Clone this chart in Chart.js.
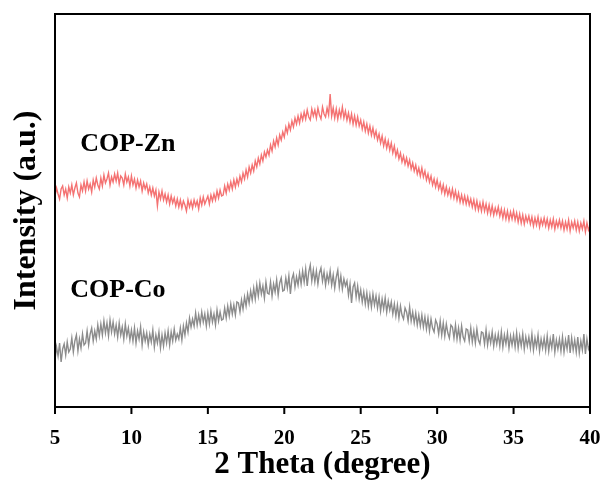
<!DOCTYPE html>
<html>
<head>
<meta charset="utf-8">
<script src="https://cdn.jsdelivr.net/npm/chart.js@4.4.1/dist/chart.umd.min.js"></script>
<style>
  html, body { margin: 0; padding: 0; background: #fff; }
  #grafico { display: block; }
</style>
</head>
<body>
<canvas id="grafico" width="605" height="484"></canvas>
<script>
// 2 theta sampling (degrees)
const thetaInicio = 5;
const thetaPasso = 0.1;

// COP-Zn intensity (a.u.), one row per degree
const intensidadeZn = [
  211, 219, 213, 208, 218, 221, 212, 218, 209, 220,
  214, 222, 212, 219, 224, 214, 210, 222, 216, 225,
  216, 226, 218, 223, 215, 227, 220, 229, 222, 218,
  229, 221, 232, 224, 228, 234, 222, 230, 225, 233,
  226, 234, 223, 231, 229, 222, 233, 225, 230, 221,
  231, 222, 228, 219, 227, 220, 226, 216, 224, 218,
  223, 214, 220, 212, 219, 211, 217, 201, 215, 208,
  216, 207, 213, 205, 212, 203, 211, 204, 209, 201,
  208, 200, 207, 199, 206, 202, 196, 207, 200, 206,
  199, 207, 201, 206, 198, 209, 202, 210, 203, 207,
  211, 203, 212, 206, 213, 207, 216, 209, 217, 211,
  212, 221, 214, 223, 217, 225, 218, 227, 220, 228,
  222, 231, 225, 234, 228, 237, 230, 240, 234, 242,
  236, 246, 240, 249, 243, 252, 246, 255, 250, 257,
  252, 262, 256, 266, 260, 269, 262, 272, 267, 275,
  270, 280, 274, 283, 277, 286, 280, 289, 283, 291,
  284, 293, 287, 295, 288, 297, 290, 287, 298, 291,
  297, 289, 299, 292, 288, 300, 293, 290, 299, 292,
  313, 291, 299, 289, 298, 288, 297, 290, 300, 289,
  296, 287, 294, 285, 293, 283, 291, 282, 290, 281,
  287, 278, 285, 276, 283, 274, 281, 272, 279, 270,
  276, 267, 273, 264, 271, 261, 268, 259, 266, 257,
  264, 254, 261, 251, 257, 248, 254, 245, 251, 243,
  249, 241, 247, 238, 244, 236, 242, 233, 239, 231,
  239, 230, 236, 227, 233, 225, 231, 222, 228, 220,
  227, 218, 224, 215, 222, 213, 220, 212, 218, 210,
  218, 209, 216, 207, 214, 205, 212, 204, 211, 203,
  210, 202, 208, 200, 207, 198, 206, 197, 204, 196,
  205, 196, 203, 194, 202, 193, 201, 192, 199, 193,
  200, 191, 198, 189, 197, 188, 196, 187, 195, 188,
  196, 187, 194, 185, 193, 184, 192, 183, 191, 185,
  191, 183, 190, 181, 189, 182, 190, 180, 188, 182,
  189, 181, 188, 179, 187, 180, 188, 178, 186, 180,
  187, 179, 186, 177, 185, 178, 187, 176, 185, 179,
  186, 177, 185, 176, 184, 178, 186, 175, 184, 177,
  181
];

// COP-Co intensity (a.u.), one row per degree
const intensidadeCo = [
  47, 60, 51, 64, 45, 58, 63, 52, 65, 55,
  58, 69, 55, 66, 72, 56, 68, 59, 73, 62,
  64, 76, 62, 73, 79, 66, 76, 68, 82, 71,
  83, 72, 86, 74, 84, 71, 87, 75, 85, 73,
  82, 70, 84, 72, 80, 68, 83, 71, 79, 67,
  77, 66, 79, 64, 76, 68, 80, 62, 75, 66,
  74, 62, 73, 65, 77, 60, 72, 64, 75, 59,
  72, 61, 74, 64, 76, 62, 75, 66, 78, 67,
  73, 68, 79, 67, 81, 72, 84, 75, 89, 80,
  88, 81, 94, 82, 92, 83, 95, 85, 93, 81,
  94, 83, 96, 85, 93, 82, 97, 86, 95, 87,
  88, 99, 89, 101, 91, 103, 93, 102, 92, 105,
  104, 95, 107, 98, 110, 101, 113, 104, 116, 107,
  119, 108, 122, 111, 124, 113, 121, 109, 125, 114,
  113, 125, 111, 123, 115, 127, 112, 124, 129, 116,
  117, 129, 119, 131, 113, 128, 133, 120, 130, 122,
  134, 123, 136, 125, 138, 121, 135, 142, 126, 137,
  125, 136, 123, 134, 139, 126, 135, 122, 133, 125,
  136, 122, 132, 119, 130, 137, 120, 131, 118, 128,
  121, 126, 112, 123, 104, 120, 124, 110, 121, 108,
  117, 105, 115, 103, 114, 101, 112, 100, 113, 102,
  111, 99, 110, 96, 108, 98, 109, 95, 106, 97,
  105, 93, 103, 91, 102, 89, 101, 92, 88, 99,
  95, 86, 100, 86, 95, 84, 94, 82, 92, 81,
  92, 80, 90, 78, 89, 76, 88, 79, 75, 87,
  83, 73, 86, 72, 84, 71, 83, 74, 69, 82,
  80, 69, 82, 68, 79, 67, 81, 70, 66, 78,
  77, 66, 79, 65, 76, 64, 78, 67, 63, 75,
  74, 63, 77, 62, 73, 64, 75, 61, 72, 63,
  73, 61, 75, 60, 72, 63, 74, 59, 71, 62,
  72, 60, 74, 59, 71, 61, 73, 58, 70, 61,
  70, 59, 73, 57, 69, 60, 72, 56, 68, 59,
  69, 57, 71, 56, 68, 59, 73, 55, 67, 58,
  68, 56, 70, 55, 67, 58, 72, 54, 69, 57,
  67, 55, 70, 54, 66, 57, 73, 53, 68, 58,
  62
];

const ticksX = [5, 10, 15, 20, 25, 30, 35, 40];

// series names and where their labels sit (theta, intensity)
const nomes = ["COP-Zn", "COP-Co"];
const posRotulos = [[6.65, 263], [6.0, 117]];

const fonte = "'Liberation Serif', 'Times New Roman', serif";

function pontos(valores) {
  return valores.map((v, i) => ({ x: thetaInicio + i * thetaPasso, y: v }));
}

// moldura, marcas do eixo x e rotulos das curvas
const molduraPlugin = {
  id: "moldura",
  afterDraw(chart) {
    const { ctx, chartArea: a, scales } = chart;
    ctx.save();
    ctx.strokeStyle = "#000";
    ctx.lineWidth = 2;
    ctx.strokeRect(a.left, a.top, a.right - a.left, a.bottom - a.top);

    ctx.beginPath();
    for (const t of scales.x.ticks) {
      const px = scales.x.getPixelForValue(t.value);
      ctx.moveTo(px, a.bottom);
      ctx.lineTo(px, a.bottom + 7);
    }
    ctx.stroke();

    ctx.fillStyle = "#000";
    ctx.font = "bold 26px " + fonte;
    ctx.textBaseline = "middle";
    nomes.forEach((n, i) => {
      const px = scales.x.getPixelForValue(posRotulos[i][0]);
      const py = scales.y.getPixelForValue(posRotulos[i][1]);
      ctx.fillText(n, px, py);
    });
    ctx.restore();
  }
};

const ctx = document.getElementById("grafico").getContext("2d");

const grafico = new Chart(ctx, {
  type: "line",
  data: {
    datasets: [
      {
        label: nomes[0],
        data: pontos(intensidadeZn),
        borderColor: "#f47272",
        borderWidth: 1.4,
        pointRadius: 0,
        tension: 0
      },
      {
        label: nomes[1],
        data: pontos(intensidadeCo),
        borderColor: "#8c8c8c",
        borderWidth: 1.4,
        pointRadius: 0,
        tension: 0
      }
    ]
  },
  options: {
    responsive: false,
    animation: false,
    layout: { padding: { top: 14, right: 15, left: 0, bottom: 0 } },
    plugins: {
      legend: { display: false },
      tooltip: { enabled: false }
    },
    scales: {
      x: {
        type: "linear",
        min: 5,
        max: 40,
        afterBuildTicks: s => { s.ticks = ticksX.map(v => ({ value: v })); },
        afterFit: s => {
          s.height = 77;
          s.paddingLeft = 0;
          s.paddingRight = 0;
        },
        border: { display: false },
        grid: { display: false },
        ticks: {
          color: "#000",
          padding: 11,
          maxRotation: 0,
          font: { family: fonte, size: 21, weight: "bold" }
        },
        title: {
          display: true,
          text: "2 Theta (degree)",
          color: "#000",
          padding: { top: 2, bottom: 0 },
          font: { family: fonte, size: 31, weight: "bold" }
        }
      },
      y: {
        min: 0,
        max: 393,
        afterFit: s => { s.width = 55; },
        border: { display: false },
        grid: { display: false },
        ticks: { display: false },
        title: {
          display: true,
          text: "Intensity (a.u.)",
          color: "#000",
          padding: { top: 8, bottom: 0 },
          font: { family: fonte, size: 32, weight: "bold" }
        }
      }
    }
  },
  plugins: [molduraPlugin]
});
</script>
</body>
</html>
